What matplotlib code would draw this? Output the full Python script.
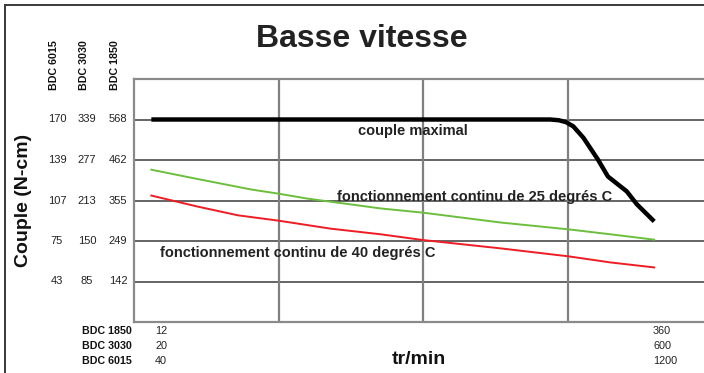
import matplotlib
matplotlib.use("Agg")
import matplotlib.pyplot as plt
from matplotlib.transforms import blended_transform_factory
from matplotlib.lines import Line2D

plt.rcParams['font.family'] = ['Liberation Sans', 'DejaVu Sans']

# speeds on the BDC 1850 scale (tr/min), torque on the BDC 1850 scale (N-cm)
couple_max_rpm = [12, 100, 200, 288, 294, 299, 304, 311, 321, 328, 341, 348, 360]
couple_max_val = [568, 568, 568, 568, 566, 561, 550, 520, 463, 418, 379, 345, 300]

continu_25_rpm = [12, 42, 81, 100, 120, 171, 200, 254, 301, 330, 360]
continu_25_val = [436, 413, 384, 373, 360, 334, 323, 297, 279, 266, 252]

continu_40_rpm = [12, 44, 72, 100, 136, 171, 200, 254, 301, 330, 360]
continu_40_val = [368, 339, 316, 302, 281, 266, 251, 229, 208, 192, 179]

# torque tick values for each motor
y_ticks = [568, 462, 355, 249, 142]
couple_6015 = ["170", "139", "107", "75", "43"]
couple_3030 = ["339", "277", "213", "150", "85"]
couple_1850 = ["568", "462", "355", "249", "142"]
moteurs = ["BDC 6015", "BDC 3030", "BDC 1850"]

# speed range for each motor
vitesse_moteurs = ["BDC 1850", "BDC 3030", "BDC 6015"]
vitesse_min = ["12", "20", "40"]
vitesse_max = ["360", "600", "1200"]

W, H = 704, 373
fig = plt.figure(figsize=(W / 100, H / 100), dpi=100)

def fx(px):
    return px / W

def fy(py):
    return 1 - py / H

ax = fig.add_axes([fx(134), fy(322), 578 / W, 243 / H])
ax.set_xlim(0, 400)
ax.set_ylim(35.5, 674.5)
ax.set_xticks([])
ax.set_yticks([])
for s in ['left', 'top', 'bottom', 'right']:
    ax.spines[s].set_color('#8a8a8a')
    ax.spines[s].set_linewidth(1.6)

for v in y_ticks:
    ax.axhline(v, color='#3a3a3a', lw=1.1, zorder=1)
for v in [100, 200, 300]:
    ax.axvline(v, color='#808080', lw=1.6, zorder=1)

ax.plot(couple_max_rpm, couple_max_val, color='black', lw=3.2,
        solid_capstyle='butt', solid_joinstyle='round', zorder=3)
ax.plot(continu_25_rpm, continu_25_val, color='#6cbf3c', lw=1.4, zorder=3)
ax.plot(continu_40_rpm, continu_40_val, color='#ee1c24', lw=1.4, zorder=3)

txt = dict(fontsize=10.5, fontweight='bold', color='#222222', va='baseline', zorder=4)
ax.text(155, 527, "couple maximal", **txt)
ax.text(140.5, 354.5, "fonctionnement continu de 25 degrés C", **txt)
ax.text(18, 207, "fonctionnement continu de 40 degrés C", **txt)

# outer frame
fig.add_artist(Line2D([fx(4.5), fx(4.5)], [0, fy(5)], color='#3a3a3a', lw=1.4))
fig.add_artist(Line2D([fx(4.5), 1], [fy(5), fy(5)], color='#3a3a3a', lw=1.4))

fig.text(fx(362), fy(47), "Basse vitesse", fontsize=23, fontweight='bold',
         color='#222222', ha='center', va='baseline')

fig.text(fx(24), fy(200), "Couple (N-cm)", fontsize=14, fontweight='bold',
         color='#111111', rotation=90, ha='center', va='center')

# column headers above the torque scales
col_x = [54, 84, 115]
for name, cx in zip(moteurs, col_x):
    fig.text(fx(cx), fy(65), name, fontsize=7.7, fontweight='bold',
             rotation=90, ha='center', va='center', color='#111111')

trans = blended_transform_factory(fig.transFigure, ax.transData)
for col, cx in zip([couple_6015, couple_3030, couple_1850], col_x):
    for v, lab in zip(y_ticks, col):
        fig.text(fx(cx + 3), v, lab, fontsize=8, ha='center', va='center',
                 transform=trans, color='#222222')

# speed rows under the axis
for i, (name, lo, hi) in enumerate(zip(vitesse_moteurs, vitesse_min, vitesse_max)):
    yy = fy(331 + 15 * i)
    fig.text(fx(132), yy, name, fontsize=7.7, fontweight='bold',
             ha='right', va='center', color='#111111')
    fig.text(fx(155), yy, lo, fontsize=7.8, ha='left', va='center', color='#222222')
    fig.text(fx(653), yy, hi, fontsize=7.8, ha='left', va='center', color='#222222')

fig.text(fx(419), fy(359), "tr/min", fontsize=14, fontweight='bold',
         ha='center', va='center', color='#111111')

fig.savefig("out.png", dpi=100)
